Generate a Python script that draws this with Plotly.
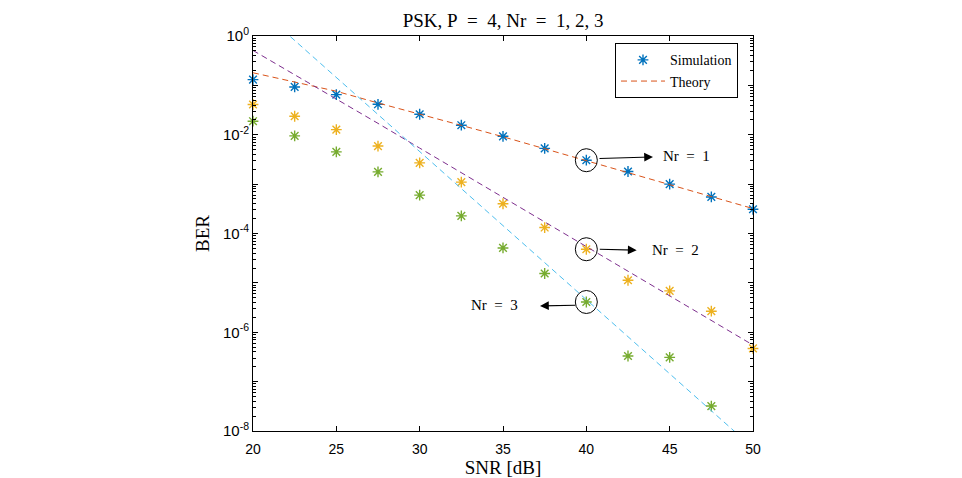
import plotly.graph_objects as go

snr = [20, 22.5, 25, 27.5, 30, 32.5, 35, 37.5, 40, 42.5, 45, 47.5, 50]

sim_nr1 = [0.131, 0.093, 0.065, 0.0414, 0.026, 0.0156, 0.0093, 0.0053, 0.00305, 0.0018, 0.001, 0.00055, 0.00031]
sim_nr2 = [0.041, 0.0237, 0.0127, 0.0059, 0.0027, 0.0011, 4.0e-4, 1.32e-4, 4.8e-5, 1.13e-5, 6.9e-6, 2.67e-6, 4.7e-7]
sim_nr3 = [0.0188, 0.0095, 0.0045, 0.00177, 6.0e-4, 2.27e-4, 5.1e-5, 1.55e-5, 4.1e-6, 3.3e-7, 3.1e-7, 3.2e-8]

th_nr1 = [0.18, 0.117, 0.076, 0.044, 0.0257, 0.0155, 0.0091, 0.0052, 0.0030, 0.00174, 0.0010, 0.00056, 0.00032]
th_nr2 = [0.51, 0.166, 0.0537, 0.017, 0.00537, 0.0017, 5.37e-4, 1.7e-4, 5.37e-5, 1.7e-5, 5.37e-6, 1.7e-6, 5.5e-7]
th_nr3 = [4.57, 0.81, 0.145, 0.0257, 0.00457, 8.1e-4, 1.45e-4, 2.57e-5, 4.57e-6, 8.1e-7, 1.45e-7, 2.57e-8, 4.57e-9]

labels = ["Nr\u2002=\u20021", "Nr\u2002=\u20022", "Nr\u2002=\u20023"]
title_text = "PSK, P\u2002=\u20024, Nr\u2002=\u20021, 2, 3"

C_BLUE = "#0072BD"
C_ORANGE = "#D95319"
C_YELLOW = "#EDB120"
C_PURPLE = "#7E2F8E"
C_GREEN = "#77AC30"
C_CYAN = "#4DBEEE"

SERIF = "Liberation Serif"
SANS = "Liberation Sans"

fig = go.Figure()

def sim_trace(y, color, name, show):
    return go.Scatter(x=snr[:len(y)], y=y, mode="markers", name=name, showlegend=show,
                      cliponaxis=False,
                      marker=dict(symbol="asterisk-open", size=9, color=color,
                                  line=dict(color=color, width=1.4)))

def th_trace(y, color, name, show):
    return go.Scatter(x=snr[:len(y)], y=y, mode="lines", name=name, showlegend=show,
                      line=dict(color=color, width=1, dash="6px,4px"))

fig.add_trace(sim_trace(sim_nr1, C_BLUE, "Simulation", True))
fig.add_trace(th_trace(th_nr1, C_ORANGE, "Theory", True))
fig.add_trace(sim_trace(sim_nr2, C_YELLOW, "Simulation", False))
fig.add_trace(th_trace(th_nr2, C_PURPLE, "Theory", False))
fig.add_trace(sim_trace(sim_nr3, C_GREEN, "Simulation", False))
fig.add_trace(th_trace(th_nr3, C_CYAN, "Theory", False))

# circles around the 40 dB points (half-width in dB, half-height as a ratio on the log axis)
CX = 0.66
CY = 1.71
for s in (sim_nr1, sim_nr2, sim_nr3):
    fig.add_shape(type="circle", xref="x", yref="y",
                  x0=snr[8] - CX, x1=snr[8] + CX, y0=s[8] / CY, y1=s[8] * CY,
                  line=dict(color="black", width=1))

# arrows (head in data coords, log10 for y; tail offset in pixels)
arrows = [(44.0, -2.45, -55, 1.6), (43.02, -4.338, -38.4, -1), (37.22, -5.466, 36.7, -0.7)]
for hx, hy, ax, ay in arrows:
    fig.add_annotation(x=hx, y=hy, xref="x", yref="y", ax=ax, ay=ay, text="",
                       showarrow=True, arrowhead=2, arrowsize=1.6, arrowwidth=1.1,
                       arrowcolor="black")
text_pos = [(45.98, -2.435), (45.32, -4.338), (34.49, -5.45)]
for (tx, ty), lab in zip(text_pos, labels):
    fig.add_annotation(x=tx, y=ty, xref="x", yref="y", text=lab, showarrow=False,
                       font=dict(family=SERIF, size=15, color="black"))

major = [10.0 ** e for e in range(-8, 1)]
major_txt = ["10<sup>%d</sup>" % e if e % 2 == 0 else "" for e in range(-8, 1)]
minor = [k * 10.0 ** e for e in range(-8, 0) for k in range(2, 10)]

fig.update_layout(
    width=962, height=478,
    margin=dict(l=253, r=209, t=36, b=47, autoexpand=False),
    paper_bgcolor="white", plot_bgcolor="white",
    title=dict(text=title_text, x=0.523, xanchor="center", y=1 - 20 / 478, yanchor="middle",
               font=dict(family=SERIF, size=19, color="black")),
    showlegend=True,
    legend=dict(x=0.724, y=0.912, xanchor="left", yanchor="middle",
                bgcolor="white", bordercolor="black", borderwidth=1,
                font=dict(family=SERIF, size=14, color="black"),
                tracegroupgap=0, itemwidth=44),
    xaxis=dict(range=[20, 50], tickvals=[20, 25, 30, 35, 40, 45, 50], automargin=False,
               ticks="inside", ticklen=5, tickcolor="black", showline=True, linecolor="black",
               linewidth=1, mirror="ticks", showgrid=False, zeroline=False,
               ticklabelstandoff=5,
               tickfont=dict(family=SANS, size=14, color="black"),
               title=dict(text="SNR [dB]", font=dict(family=SERIF, size=19, color="black"), standoff=6)),
    yaxis=dict(type="log", range=[-8, 0], tickvals=major, ticktext=major_txt, automargin=False,
               ticks="inside", ticklen=5, tickcolor="black", showline=True, linecolor="black",
               linewidth=1, mirror="ticks", showgrid=False, zeroline=False,
               tickfont=dict(family=SANS, size=15, color="black"),
               minor=dict(tickvals=minor, ticks="inside", ticklen=3, tickcolor="black", showgrid=False),
               title=dict(text="BER", font=dict(family=SERIF, size=19, color="black"), standoff=8)),
)

fig.write_html("out.html")
